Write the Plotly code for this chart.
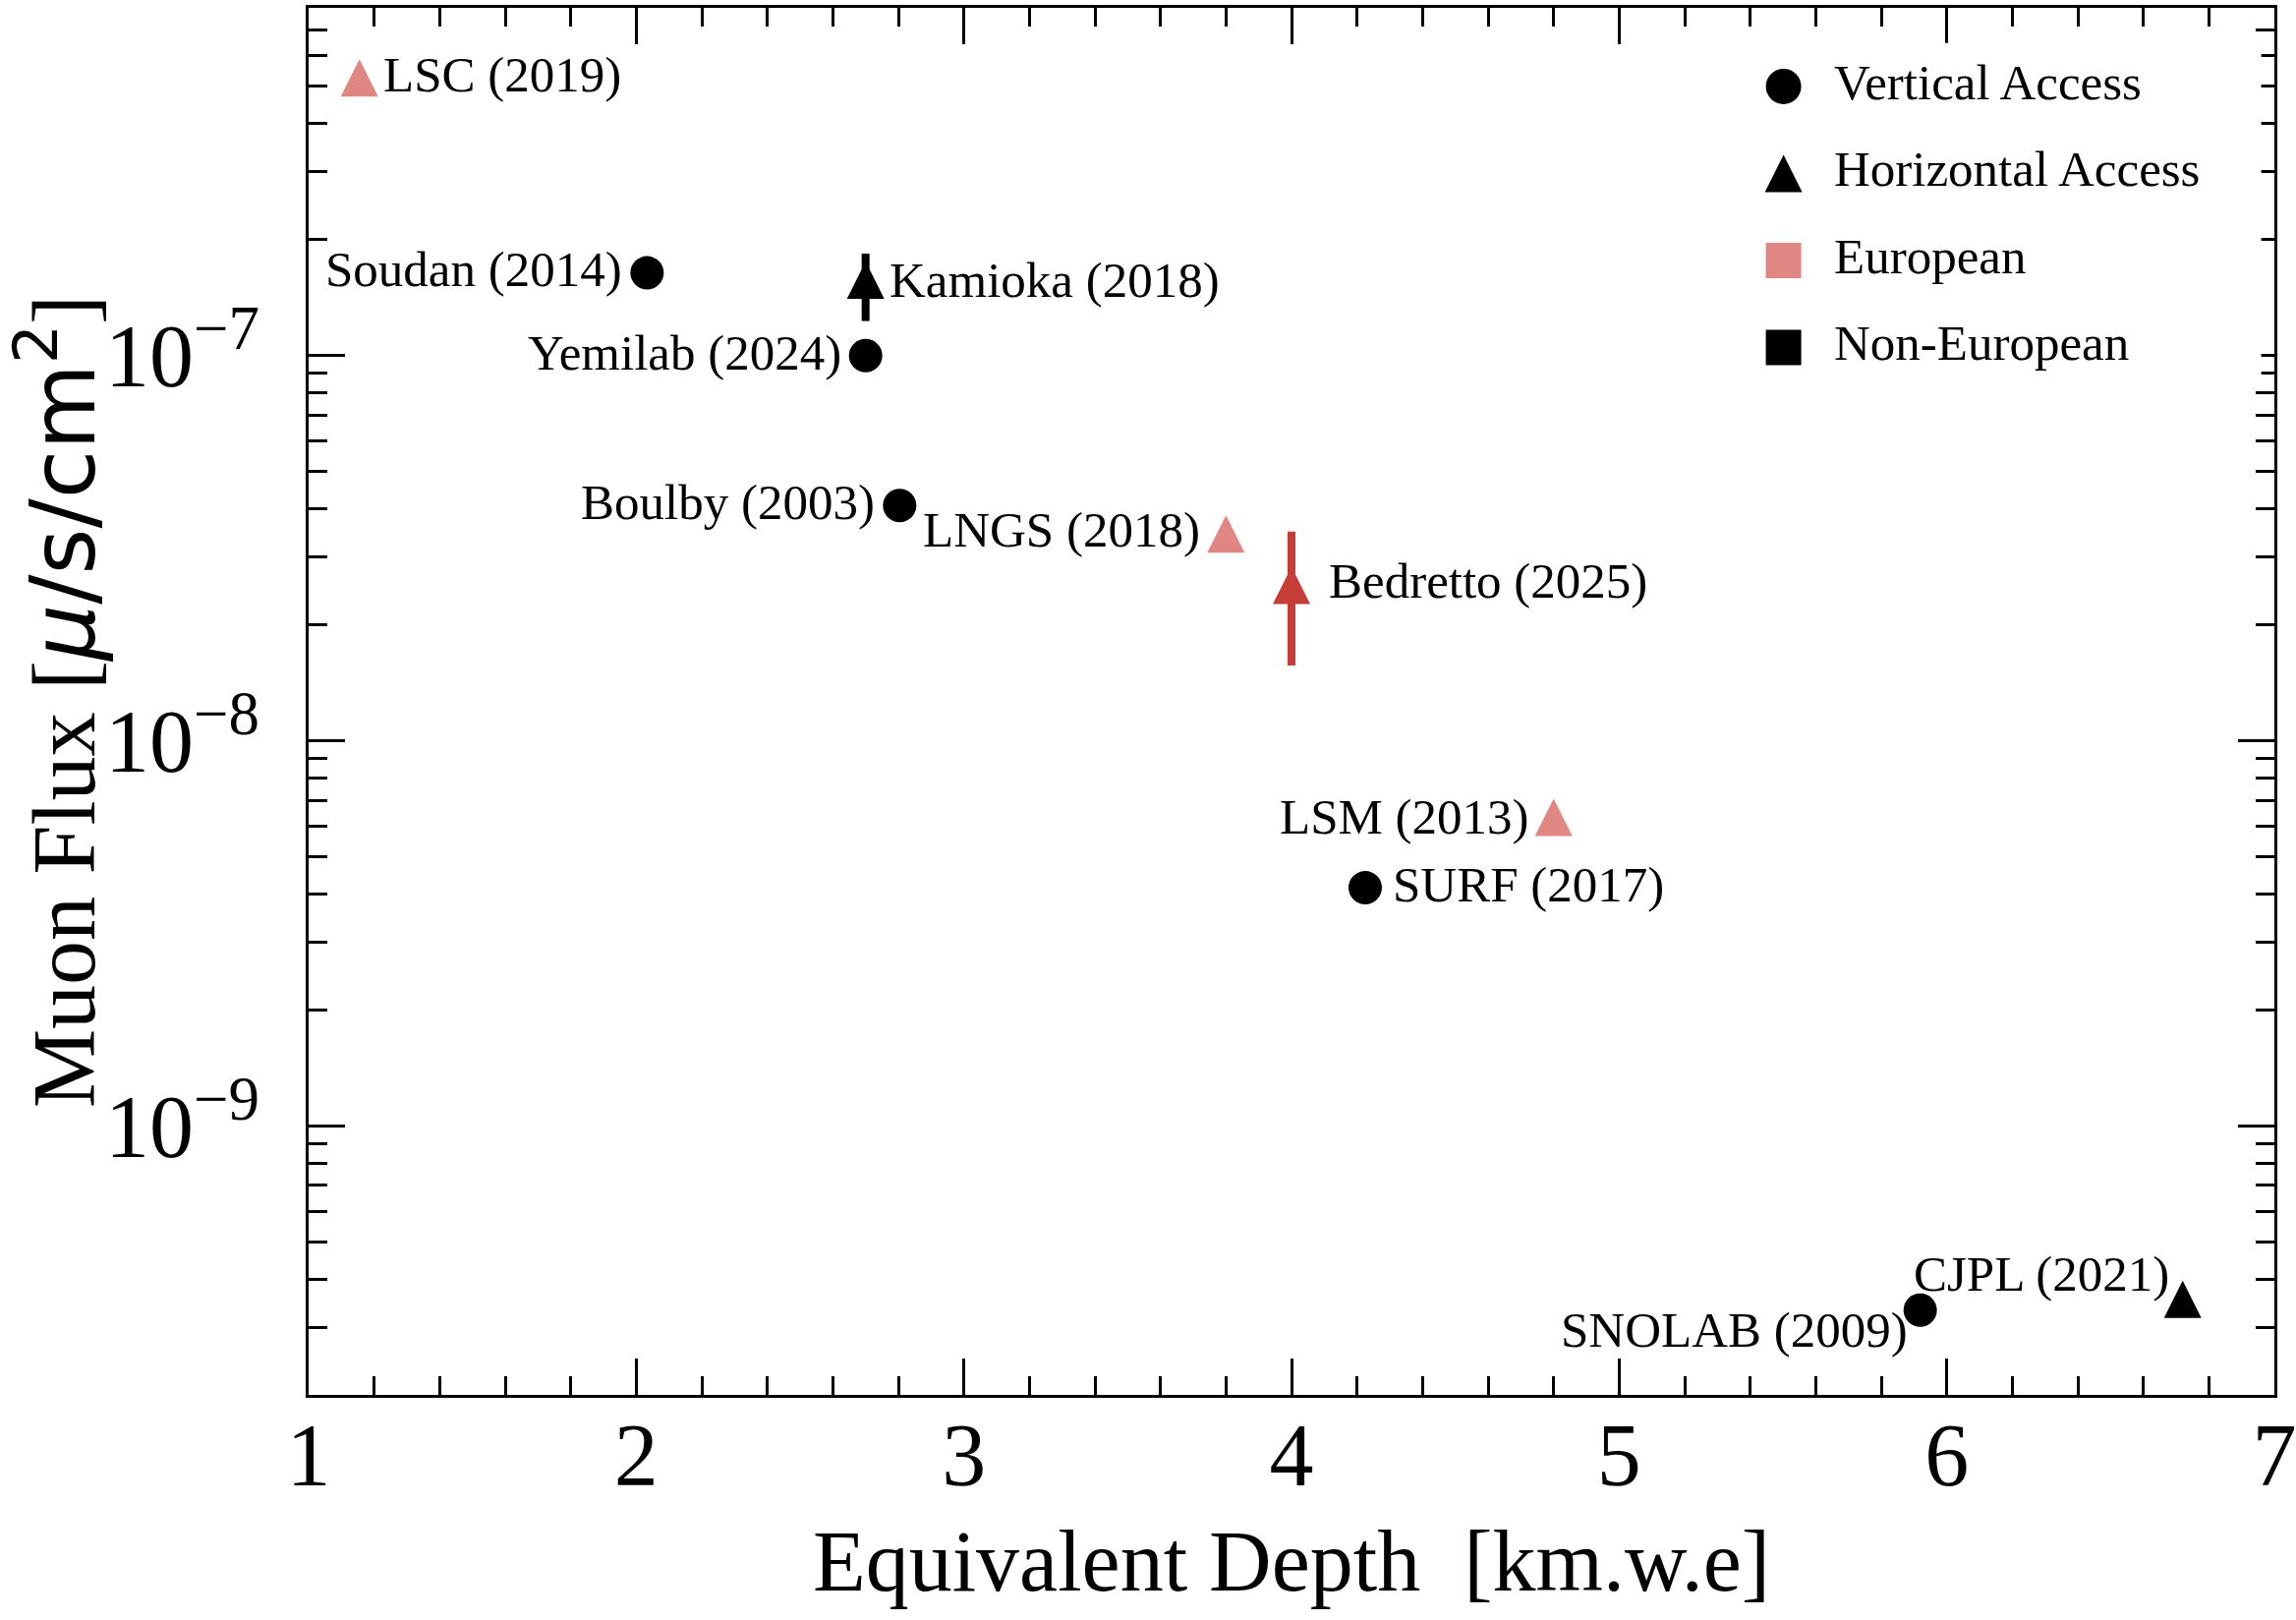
import numpy as np
import plotly.graph_objects as go

# ---------------- data ----------------
sites = ["LSC (2019)", "Soudan (2014)", "Kamioka (2018)", "Yemilab (2024)",
         "Boulby (2003)", "LNGS (2018)", "Bedretto (2025)", "LSM (2013)",
         "SURF (2017)", "SNOLAB (2009)", "CJPL (2021)"]
depth_kmwe = [1.155, 2.033, 2.70, 2.70, 2.804, 3.80, 4.00, 4.80, 4.225, 5.919, 6.72]
flux = [5.26e-7, 1.64e-7, 1.57e-7, 1.00e-7, 4.08e-8, 3.44e-8, 2.53e-8,
        6.32e-9, 4.15e-9, 3.32e-10, 3.54e-10]
flux_hi = [None, None, 1.84e-7, None, None, None, 3.49e-8, None, None, None, None]
flux_lo = [None, None, 1.23e-7, None, None, None, 1.567e-8, None, None, None, None]
access = ["horizontal", "vertical", "horizontal", "vertical", "vertical", "horizontal",
          "horizontal", "horizontal", "vertical", "vertical", "horizontal"]
group = ["European", "Non-European", "Non-European", "Non-European", "Non-European",
         "European", "Highlight", "European", "Non-European", "Non-European", "Non-European"]

legend_labels = ["Vertical Access", "Horizontal Access", "European", "Non-European"]
legend_kind = ["vertical", "horizontal", "European", "Non-European"]

x_ticks = [1, 2, 3, 4, 5, 6, 7]
y_major = [1e-9, 1e-8, 1e-7]
y_major_text = ["10<sup>\u22129</sup>", "10<sup>\u22128</sup>", "10<sup>\u22127</sup>"]
y_minor = [m * 10.0 ** e for e in (-10, -9, -8, -7) for m in range(2, 10)]

# ---------------- style ----------------
PINK = "#E08783"
RED = "#C63C36"
BLACK = "#000000"
SERIF = "Liberation Serif"
color_of = {"European": PINK, "Non-European": BLACK, "Highlight": RED}
# triangle drawn as a rotated, re-centred arrowhead so that width == height
symbol_of = {"vertical": "circle", "horizontal": "arrow-down"}
size_of = {"circle": 34, "arrow-down": 38, "square": 36}
angle_of = {"circle": 0, "arrow-down": 180, "square": 0}
standoff_of = {"circle": 0, "arrow-down": 19, "square": 0}

# label placement: side, horizontal gap (px), vertical shift (px, + = up)
label_side = ["right", "left", "right", "left", "left", "left", "right", "left", "right", "left", "left"]
label_gap = [24, 25, 24, 25, 25, 26, 38, 25, 28, 13, 14]
label_dy = [3, 4, 0, 3, 3, 4, 5, 1, 3, -20, 26]

fig = go.Figure()

for g in ["European", "Non-European", "Highlight"]:
    idx = [i for i in range(len(sites)) if group[i] == g]
    xs = [depth_kmwe[i] for i in idx]
    ys = [flux[i] for i in idx]
    syms = [symbol_of[access[i]] for i in idx]
    has_err = any(flux_hi[i] is not None for i in idx)
    err = None
    if has_err:
        err = dict(type="data", symmetric=False,
                   array=[(flux_hi[i] - flux[i]) if flux_hi[i] is not None else 0 for i in idx],
                   arrayminus=[(flux[i] - flux_lo[i]) if flux_lo[i] is not None else 0 for i in idx],
                   thickness=8, width=0, color=color_of[g])
    fig.add_trace(go.Scatter(
        x=xs, y=ys, mode="markers", showlegend=False,
        marker=dict(symbol=syms, size=[size_of[s] for s in syms],
                    angle=[angle_of[s] for s in syms],
                    standoff=[standoff_of[s] for s in syms],
                    color=color_of[g], opacity=1, line=dict(width=0)),
        error_y=err, cliponaxis=False))

# labels next to points
annotations = []
for i, name in enumerate(sites):
    side = label_side[i]
    annotations.append(dict(
        x=depth_kmwe[i], y=np.log10(flux[i]), xref="x", yref="y",
        text=name, showarrow=False,
        xanchor="left" if side == "right" else "right", yanchor="middle",
        xshift=label_gap[i] if side == "right" else -label_gap[i],
        yshift=label_dy[i], borderpad=0, borderwidth=0,
        font=dict(family=SERIF, size=51, color=BLACK)))

# legend drawn on an inset axis
leg_sym = [symbol_of.get(k, "square") for k in legend_kind]
leg_col = [color_of.get(k, BLACK) for k in legend_kind]
leg_size = [size_of[s] + (2 if s == "circle" else 0) for s in leg_sym]
leg_rows = list(range(len(legend_labels)))
fig.add_trace(go.Scatter(
    x=[0] * len(legend_labels), y=leg_rows, xaxis="x2", yaxis="y2",
    mode="markers", showlegend=False, hoverinfo="skip",
    marker=dict(symbol=leg_sym, size=leg_size, color=leg_col, opacity=1,
                angle=[angle_of[s] for s in leg_sym],
                standoff=[standoff_of[s] for s in leg_sym],
                line=dict(width=0))))
for r, lab in zip(leg_rows, legend_labels):
    annotations.append(dict(
        x=0, y=r, xref="x2", yref="y2", text=lab, showarrow=False,
        xanchor="left", yanchor="middle", xshift=51, yshift=4,
        borderpad=0, borderwidth=0,
        font=dict(family=SERIF, size=51, color=BLACK)))

axis_common = dict(showline=True, linewidth=3, linecolor=BLACK, mirror="ticks",
                   ticks="inside", ticklen=37, tickwidth=2.5, tickcolor=BLACK,
                   showgrid=False, zeroline=False, ticklabeloverflow="allow",
                   tickfont=dict(family=SERIF, size=90, color=BLACK))

fig.update_layout(
    width=2336, height=1648,
    margin=dict(l=314, r=22, t=8, b=229, autoexpand=False),
    paper_bgcolor="white", plot_bgcolor="white",
    font=dict(family=SERIF, color=BLACK),
    showlegend=False,
    xaxis=dict(range=[0.99999, 7.00001], tickvals=x_ticks, ticklabelstandoff=-19,
               minor=dict(ticks="inside", ticklen=19, tickwidth=2.5, tickcolor=BLACK,
                          tick0=1, dtick=0.2, showgrid=False),
               title=dict(text="Equivalent Depth&nbsp;&nbsp;[km.w.e]",
                          font=dict(family=SERIF, size=88, color=BLACK), standoff=28),
               **axis_common),
    yaxis=dict(type="log", range=[np.log10(2e-10), np.log10(8e-7)],
               tickvals=y_major, ticktext=y_major_text, ticklabelstandoff=29,
               minor=dict(ticks="inside", ticklen=19, tickwidth=2.5, tickcolor=BLACK,
                          tickvals=y_minor, showgrid=False),
               title=dict(text="Muon Flux [<span style=\"font-family:'DejaVu Sans'\"><i>\u03bc</i>/s/cm<sup>2</sup></span>]",
                          font=dict(family=SERIF, size=90, color=BLACK), standoff=22),
               **axis_common),
    xaxis2=dict(domain=[0.7233, 0.9933], range=[-1, 9], anchor="y2", visible=False,
                fixedrange=True),
    yaxis2=dict(domain=[0.7238, 0.9747], range=[3.5, -0.5], anchor="x2", visible=False,
                fixedrange=True),
    annotations=annotations,
)

fig.write_html("out.html", config={"displayModeBar": False},
               post_script="document.body.style.margin='0';")
